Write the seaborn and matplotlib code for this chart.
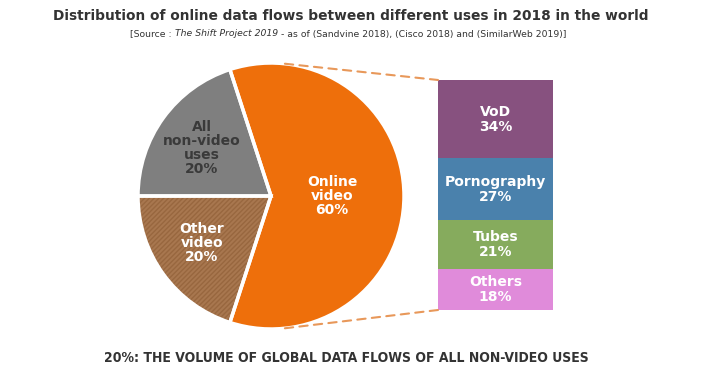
import matplotlib
matplotlib.use("Agg")
import matplotlib.pyplot as plt
import seaborn as sns
import numpy as np
from matplotlib.patches import ConnectionPatch
from matplotlib import font_manager

# ---- data ----
pie_labels = ["Online\nvideo", "All\nnon-video\nuses", "Other\nvideo"]
pie_values = [60, 20, 20]
pie_colors = ["#EE6F0B", "#7F7F7F", "#A8774F"]
pie_text_colors = ["white", "#3A3A3A", "white"]

bar_labels = ["VoD", "Pornography", "Tubes", "Others"]
bar_values = [34, 27, 21, 18]
bar_colors = ["#87517F", "#4A81AC", "#86AB5D", "#E08BDA"]

title = "Distribution of online data flows between different uses in 2018 in the world"
source_parts = ["[Source : ", "The Shift Project 2019", " - as of (Sandvine 2018), (Cisco 2018) and (SimilarWeb 2019)]"]
footer = "20%: THE VOLUME OF GLOBAL DATA FLOWS OF ALL NON-VIDEO USES"

sns.set_theme(style="white")
plt.rcParams["font.family"] = ["DejaVu Sans"]

# look for a condensed / narrow bold face for the footer
cond = None
for f in font_manager.fontManager.ttflist:
    nm = f.name.lower()
    fn = f.fname.lower()
    is_cond = ("narrow" in nm or "condensed" in nm or "condensed" in fn or "narrow" in fn
               or str(f.stretch) in ("condensed", "semi-condensed", "extra-condensed"))
    w = f.weight if isinstance(f.weight, int) else (700 if "bold" in str(f.weight) else 400)
    if is_cond and w >= 600 and "oblique" not in fn and "italic" not in fn:
        cond = f.fname
        break

W, H = 712, 377
fig = plt.figure(figsize=(W / 100, H / 100), dpi=100)
fig.patch.set_facecolor("white")

# ---- pie ----
cx, cy, r = 271, 196, 133
m = 140
ax = fig.add_axes([(cx - m) / W, (H - cy - m) / H, 2 * m / W, 2 * m / H])
hatch_colors = ["#EE6F0B", "#7F7F7F", "#98673F"]
wedges, _ = ax.pie(pie_values, colors=pie_colors, startangle=-108, counterclock=True,
                   radius=1.0, wedgeprops=dict(linewidth=0))
for w, hc in zip(wedges, hatch_colors):
    w.set_edgecolor(hc)
    w.set_linewidth(0)
wedges[2].set_hatch("///////")
plt.rcParams["hatch.linewidth"] = 0.6
ax.pie(pie_values, colors=["none"] * 3, startangle=-108, counterclock=True,
       radius=1.0, wedgeprops=dict(edgecolor="white", linewidth=2.5, facecolor="none"))
ax.set_xlim(-m / r, m / r)
ax.set_ylim(-m / r, m / r)
ax.set_aspect("equal")
ax.axis("off")

label_pos = [(0.46, 0.0), (-0.52, 0.36), (-0.52, -0.35)]
for lab, val, (x, y), tc in zip(pie_labels, pie_values, label_pos, pie_text_colors):
    ax.text(x, y, f"{lab}\n{val}%", ha="center", va="center", color=tc,
            fontsize=10, fontweight="bold", linespacing=1.0)

# ---- stacked bar ----
bx0, bx1, by0, by1 = 438, 553, 80, 310
ax2 = fig.add_axes([bx0 / W, (H - by1) / H, (bx1 - bx0) / W, (by1 - by0) / H])
tops = 100 - np.concatenate([[0], np.cumsum(bar_values)[:-1]])
for lab, val, top, col in zip(bar_labels, bar_values, tops, bar_colors):
    sns.barplot(x=[0], y=[val], bottom=top - val, color=col, width=1.0,
                saturation=1, ax=ax2, linewidth=0)
    ax2.text(0, top - val / 2, f"{lab}\n{val}%", ha="center", va="center",
             color="white", fontsize=10, fontweight="bold", linespacing=1.1)
ax2.set_xlim(-0.5, 0.5)
ax2.set_ylim(0, 100)
ax2.axis("off")

# ---- dashed connectors ----
for ang, yb in [(84, 100), (-84, 0)]:
    p = (np.cos(np.radians(ang)), np.sin(np.radians(ang)))
    con = ConnectionPatch(xyA=p, coordsA=ax.transData, xyB=(-0.5, yb), coordsB=ax2.transData,
                          linestyle=(0, (4, 3)), color="#E8985A", linewidth=1.5)
    fig.add_artist(con)

# ---- texts ----
fig.canvas.draw()
renderer = fig.canvas.get_renderer()


def fit(t, target_w):
    w = t.get_window_extent(renderer).width
    t.set_fontsize(t.get_fontsize() * target_w / w)


t_title = fig.text(351 / W, 1 - 16 / H, title, ha="center", va="center", fontsize=11.5,
                   fontweight="bold", color="#333333")
fit(t_title, 603)

styles = ["normal", "italic", "normal"]
pieces = [fig.text(0, 1 - 34 / H, txt, ha="left", va="center", fontsize=7.5,
                   style=st, color="#333333") for txt, st in zip(source_parts, styles)]
total = sum(p.get_window_extent(renderer).width for p in pieces)
scale = 435 / total
for p in pieces:
    p.set_fontsize(p.get_fontsize() * scale)
widths = [p.get_window_extent(renderer).width for p in pieces]
x = 348 - sum(widths) / 2
for p, w in zip(pieces, widths):
    p.set_x(x / W)
    x += w

if cond is not None:
    fp = font_manager.FontProperties(fname=cond)
    t_foot = fig.text(346 / W, 1 - 358 / H, footer, ha="center", va="center", fontsize=13,
                      color="#333333", fontproperties=fp)
    t_foot.set_fontsize(13)
    fit(t_foot, 485)
else:
    t_foot = fig.text(346 / W, 1 - 358 / H, footer, ha="center", va="center", fontsize=12,
                      fontweight="bold", color="#333333")
    fit(t_foot, 540)

fig.savefig("out.png", dpi=100)
